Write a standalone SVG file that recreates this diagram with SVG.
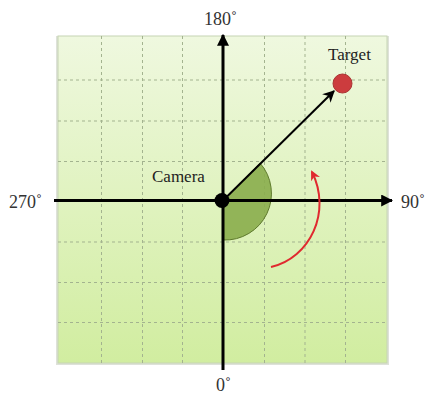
<svg xmlns="http://www.w3.org/2000/svg" width="427" height="396" viewBox="0 0 427 396">
<defs>
<linearGradient id="bg" x1="0" y1="0" x2="0" y2="1">
<stop offset="0" stop-color="#eff8df"/>
<stop offset="1" stop-color="#d1eda0"/>
</linearGradient>
<marker id="ahBlack" viewBox="0 0 10 10" refX="9" refY="5" markerWidth="4" markerHeight="4" orient="auto" markerUnits="strokeWidth">
<path d="M0,0 L10,5 L0,10 z" fill="#000"/>
</marker>
<marker id="ahThin" viewBox="0 0 10 10" refX="9" refY="5" markerWidth="6" markerHeight="6" orient="auto" markerUnits="strokeWidth">
<path d="M0,0 L10,5 L0,10 L3,5 z" fill="#000"/>
</marker>
<marker id="ahRed" viewBox="0 0 10 10" refX="8" refY="5" markerWidth="5" markerHeight="5" orient="auto" markerUnits="strokeWidth">
<path d="M0,0 L10,5 L0,10 L3,5 z" fill="#e0292f"/>
</marker>
<style>
.grid{stroke:#a3b38f;stroke-width:1;stroke-dasharray:3,3;fill:none}
.axis{stroke:#000;stroke-width:3;fill:none}
.lbl{font-family:"Liberation Serif","DejaVu Serif",serif;fill:#333;font-size:18px}
.name{font-family:"Liberation Serif","DejaVu Serif",serif;fill:#222;font-size:17px}
</style>
</defs>
<g id="plane">
<rect x="56" y="36" width="333" height="329" fill="#c8cfc0" opacity="0.6"/>
<rect x="58" y="36" width="329" height="327" fill="url(#bg)" stroke="#c6d4b4" stroke-width="1"/>
<g class="grid">
<line x1="101.5" y1="36" x2="101.5" y2="363"/>
<line x1="142.5" y1="36" x2="142.5" y2="363"/>
<line x1="182.5" y1="36" x2="182.5" y2="363"/>
<line x1="264.5" y1="36" x2="264.5" y2="363"/>
<line x1="305" y1="36" x2="305" y2="363"/>
<line x1="345.5" y1="36" x2="345.5" y2="363"/>
<line x1="58" y1="80" x2="387" y2="80"/>
<line x1="58" y1="121" x2="387" y2="121"/>
<line x1="58" y1="161.5" x2="387" y2="161.5"/>
<line x1="58" y1="242" x2="387" y2="242"/>
<line x1="58" y1="282.5" x2="387" y2="282.5"/>
<line x1="58" y1="322.5" x2="387" y2="322.5"/>
</g>
</g>
<g id="angle">
<path d="M223,201 L260,163 A46.5,46.5 0 0 1 223,240 Z" fill="#8aad4c" fill-opacity="0.9" stroke="#5e7a2c" stroke-width="1"/>
</g>
<g id="connectors">
<line class="axis" x1="223" y1="370" x2="223" y2="35" marker-end="url(#ahBlack)"/>
<line class="axis" x1="54" y1="200.5" x2="392" y2="200.5" marker-end="url(#ahBlack)"/>
<line x1="223" y1="200.5" x2="334" y2="91" stroke="#000" stroke-width="2" marker-end="url(#ahThin)"/>
<path d="M271,267 C310,258 332,212 312,172" fill="none" stroke="#e0292f" stroke-width="2" marker-end="url(#ahRed)"/>
</g>
<g id="camera">
<circle cx="222" cy="200.5" r="7.5" fill="#000"/>
<text class="name" x="152" y="181.5">Camera</text>
</g>
<g id="target">
<circle cx="342.5" cy="83.5" r="9.5" fill="#cc3c3e" stroke="#a33" stroke-width="1"/>
<text class="name" x="328" y="59.5">Target</text>
</g>
<g id="labels">
<text class="lbl" x="204" y="25">180˚</text>
<text class="lbl" x="9" y="208">270˚</text>
<text class="lbl" x="401" y="208">90˚</text>
<text class="lbl" x="216" y="391">0˚</text>
</g>
</svg>
